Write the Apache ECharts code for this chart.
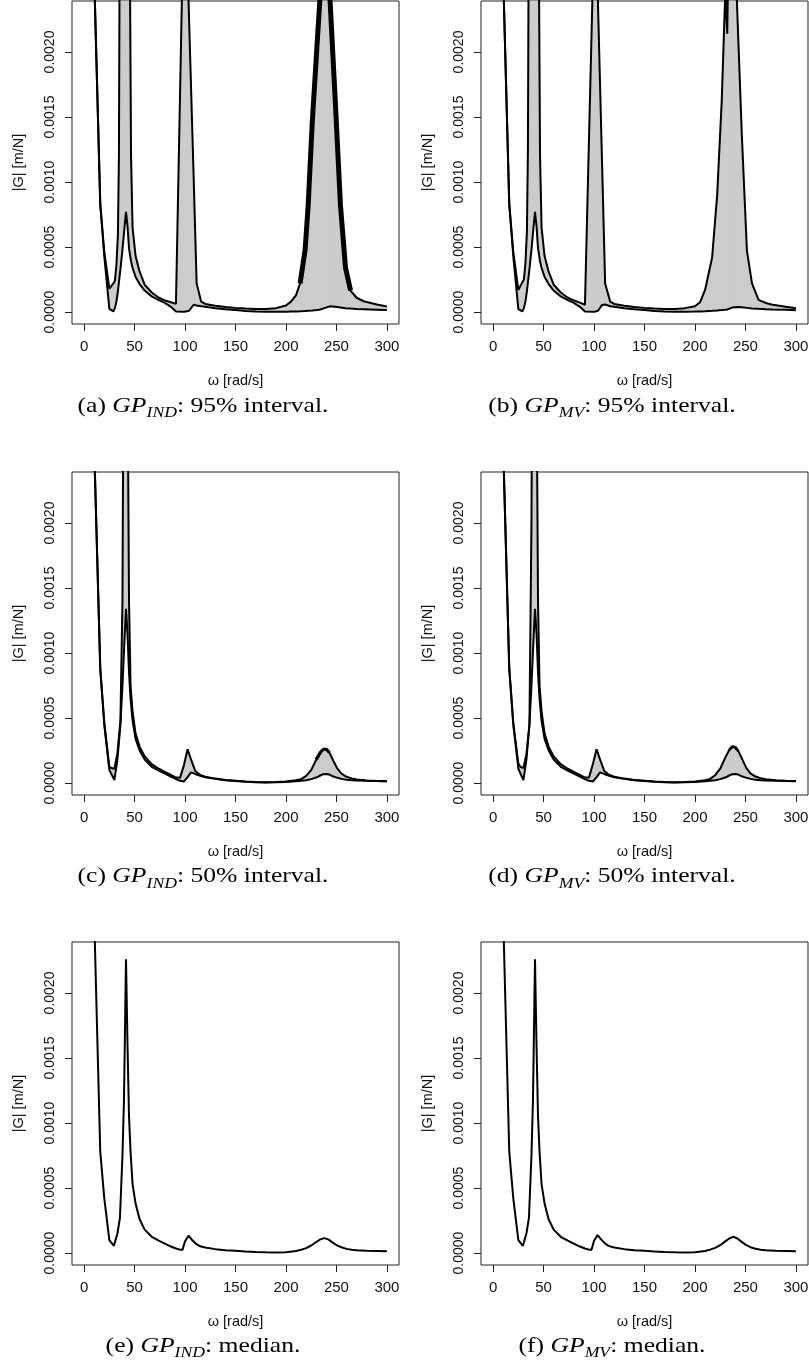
<!DOCTYPE html>
<html><head><meta charset="utf-8">
<script src="https://cdn.jsdelivr.net/npm/echarts@6/dist/echarts.min.js"></script>
<style>html,body{margin:0;padding:0;background:#fff}#c{width:809px;height:1371px}</style>
</head><body><div id="c"></div>
<script>
// ---- tick labels ----
const xTicks = [0, 50, 100, 150, 200, 250, 300];          // ω [rad/s]
const yTicks = [0, 5, 10, 15, 20];                         // |G| in units of 1e-4 m/N

// ---- (a) GP_IND 95% interval (|G| in 1e-4 m/N) ----
const xA = [10,16,20,25,29,30.5,32,33.5,34.5,36,38,40,41.5,43,44.5,45.5,46.5,48,51,55,60,67,74,80,86,91,99.5,104,108.5,111.5,116,120,130,140,150,160,170,180,190,200,205,210,214,219,222,226,231,234,238,244,249,254,259,264,270,277,290,300];
const lowerA = [25.8,8.3,4.3,0.25,0.05, 0.3,0.8,1.6,2.3,3.3, 4.8,6.5,7.7,6.6,4.9, 4.4,3.9,3.4,2.7,2.15, 1.65,1.2,0.92,0.7,0.4, 0.05,0.03,0.1,0.56,0.5, 0.45,0.4,0.3,0.22,0.15, 0.08,0.04,0.03,0.03,0.03, 0.04,0.05,0.06,0.08,0.1, 0.12,0.16,0.2,0.3,0.44, 0.4,0.35,0.3,0.27,0.24, 0.22,0.18,0.15];
const upperA = [25.8,8.3,4.6,1.8,2.2, 2.4,3.6,6.0,12,45, 80,100,100,80,45, 25,12,6.5,4.3,3.1, 2.1,1.5,1.1,0.9,0.75, 0.64,34.5,22.5,10.5,2.2, 0.8,0.62,0.48,0.38,0.32, 0.27,0.24,0.24,0.3,0.5, 0.8,1.3,2.2,4.8,8.2, 14.5,20.8,24.5,32,23.5, 16,8.2,3.4,1.65,1.1, 0.83,0.58,0.42];

// ---- (b) GP_MV 95% interval ----
const xB = [10,16,20,25,29,30.5,32,33.5,34.5,36,38,40,41.5,43,44.5,45.5,46.5,48,51,55,60,67,74,80,86,91,101,104,108,111,116,120,130,140,150,160,170,180,190,200,205,210,217,222,226.5,230,232,233.5,237,241.5,246.5,251.5,256.5,263,270,277,290,300];
const lowerB = [25.8,8.3,4.3,0.22,0.05, 0.3,0.8,1.6,2.3,3.3, 4.8,6.5,7.7,6.6,4.9, 4.4,3.9,3.4,2.7,2.15, 1.65,1.2,0.92,0.7,0.4, 0.05,0.03,0.1,0.55,0.58, 0.45,0.4,0.3,0.22,0.15, 0.08,0.04,0.03,0.03,0.04, 0.05,0.06,0.09,0.12,0.15, 0.18,0.2,0.26,0.34,0.38, 0.36,0.32,0.28,0.25,0.22, 0.2,0.17,0.14];
const upperB = [25.8,8.3,4.6,1.7,2.3, 2.5,3.7,6.2,12.5,45, 80,100,100,80,45, 25,12,6.5,4.3,3.1, 2.1,1.5,1.1,0.9,0.72, 0.56,32.4,23.4,11.3,2.2, 0.8,0.62,0.48,0.38,0.32, 0.27,0.24,0.24,0.3,0.45, 0.75,1.7,4.2,9,16.2, 24.5,21.4,30,38,24, 13.5,4.7,2.2,0.94,0.7, 0.56,0.4,0.3];

// ---- (c) GP_IND / (d) GP_MV 50% interval ----
const xCD = [10,16,20,25,27,30,33,36,38,40,41.5,43,44.5,46,48,51,55,60,67,74,80,86,91,95,99,102.5,106,110,115,120,130,140,150,160,170,180,190,200,210,215,220,225,230,234,237,240,243,247,251,255,260,265,270,280,290,300];
const lowerC = [25.8,8.8,4.5,1.0,0.7, 0.23,1.8,4.5,7.5,11, 13.4,11.5,8.5,6.5,4.8, 3.4,2.5,1.8,1.25,0.95, 0.72,0.5,0.3,0.17,0.12, 0.45,0.82,0.7,0.56,0.45, 0.32,0.22,0.16,0.1,0.07, 0.05,0.06,0.08,0.13,0.17, 0.22,0.3,0.42,0.58,0.68, 0.7,0.65,0.5,0.4,0.32, 0.26,0.22,0.2,0.17,0.15, 0.13];
const upperC = [25.8,8.8,4.6,1.25,1.15, 1.1,2.3,4.8,14,50, 60,32,14,7.5,5.5, 3.8,2.8,2.05,1.45,1.1, 0.85,0.62,0.42,0.4,1.4, 2.6,1.8,0.95,0.62,0.48, 0.34,0.24,0.18,0.12,0.08, 0.06,0.08,0.12,0.22,0.3, 0.55,1.0,1.8,2.35,2.6, 2.6,2.35,1.7,1.1,0.72, 0.48,0.36,0.28,0.2,0.16, 0.14];
const lowerD = [25.8,8.8,4.5,1.1,0.75, 0.23,1.8,4.5,7.5,11, 13.4,11.5,8.5,6.5,4.8, 3.4,2.5,1.8,1.25,0.95, 0.72,0.5,0.3,0.17,0.12, 0.45,0.82,0.7,0.56,0.45, 0.32,0.22,0.16,0.1,0.07, 0.05,0.06,0.08,0.13,0.17, 0.22,0.3,0.42,0.58,0.68, 0.7,0.65,0.5,0.4,0.32, 0.26,0.22,0.2,0.17,0.15, 0.13];
const upperD = [25.8,8.8,4.6,1.5,1.25, 1.15,2.2,4.5,20,55, 60,32,14,7.5,5.5, 3.8,2.8,2.05,1.45,1.1, 0.85,0.62,0.42,0.42,1.5, 2.6,1.8,0.95,0.62,0.48, 0.34,0.24,0.18,0.12,0.08, 0.06,0.08,0.12,0.22,0.32, 0.6,1.1,1.95,2.55,2.8, 2.75,2.45,1.8,1.15,0.75, 0.5,0.37,0.29,0.21,0.17, 0.15];

// ---- (e) GP_IND / (f) GP_MV median ----
const xEF = [10,16,20,25,29.5,33,35.5,38,39.5,41.5,43,44.5,46,48,51,55,60,67,74,80,86,91,95,97.5,100,103.5,107,111,115,120,130,140,150,160,170,180,190,200,210,215,220,225,230,234,238,242,246,250,255,260,265,270,280,290,300];
const medianE = [25.8,7.8,4.2,1.0,0.56, 1.5,2.7,7.5,11.8,22.6, 16.0,10.5,7.8,5.3,3.8, 2.6,1.8,1.25,0.95,0.72, 0.5,0.35,0.26,0.26,0.9, 1.33,1.0,0.7,0.52,0.42, 0.3,0.22,0.17,0.12,0.08, 0.06,0.05,0.06,0.15,0.25, 0.38,0.58,0.85,1.05,1.15, 1.05,0.82,0.62,0.44,0.32, 0.25,0.21,0.17,0.15,0.13];
const medianF = [25.8,7.8,4.2,1.0,0.56, 1.5,2.7,7.5,11.8,22.6, 16.0,10.5,7.8,5.3,3.8, 2.6,1.8,1.25,0.95,0.72, 0.5,0.35,0.26,0.26,0.95, 1.38,1.05,0.72,0.53,0.43, 0.3,0.22,0.17,0.12,0.08, 0.06,0.05,0.06,0.15,0.26, 0.4,0.6,0.9,1.12,1.25, 1.12,0.88,0.65,0.45,0.33, 0.26,0.21,0.17,0.15,0.13];

// ---- captions ----
const captions = [
  ['(a) ', 'IND', ': 95% interval.'],
  ['(b) ', 'MV', ': 95% interval.'],
  ['(c) ', 'IND', ': 50% interval.'],
  ['(d) ', 'MV', ': 50% interval.'],
  ['(e) ', 'IND', ': median.'],
  ['(f) ', 'MV', ': median.']
];

const panels = [
  {x: xA,  lower: lowerA, upper: upperA, thick: [212, 266], thickW: 5},
  {x: xB,  lower: lowerB, upper: upperB},
  {x: xCD, lower: lowerC, upper: upperC, thick: [229, 246], thickW: 3.2},
  {x: xCD, lower: lowerD, upper: upperD, thick: [231, 245], thickW: 2.8},
  {x: xEF, median: medianE},
  {x: xEF, median: medianF}
];

const colLeft = [72, 481];
const rowTop = [1, 472, 942];
const capY = [406, 876.5, 1346];
const capX = [203, 612];
const SANS = 'Liberation Sans';
const LW = 2;

const grids = [], xAxes = [], yAxes = [], series = [], graphics = [];
const zip = (xs, ys) => xs.map((x, i) => [x, ys[i]]);

function bandItem(params, api) {
  const p0 = api.coord([api.value(0), api.value(1)]);
  const p1 = api.coord([api.value(3), api.value(4)]);
  const p2 = api.coord([api.value(3), api.value(5)]);
  const p3 = api.coord([api.value(0), api.value(2)]);
  return {type: 'polygon', shape: {points: [p0, p1, p2, p3]},
    style: {fill: '#cccccc', stroke: '#cccccc', lineWidth: 0.8}};
}

panels.forEach((p, gi) => {
  const col = gi % 2, row = Math.floor(gi / 2);
  grids.push({left: colLeft[col], top: rowTop[row], width: 327, height: 323,
    show: true, borderColor: '#222', borderWidth: 1, backgroundColor: 'transparent',
    containLabel: false, outerBoundsMode: 'none'});
  xAxes.push({gridIndex: gi, type: 'value', min: -12, max: 312, position: 'bottom',
    axisLine: {show: false, onZero: false}, splitLine: {show: false},
    axisTick: {show: true, length: 7, lineStyle: {color: '#222', width: 1}, customValues: xTicks},
    axisLabel: {customValues: xTicks, margin: 15, fontSize: 15, color: '#111', fontFamily: SANS},
    name: 'ω [rad/s]', nameLocation: 'middle', nameGap: 49,
    nameTextStyle: {fontSize: 14.5, color: '#111', fontFamily: SANS}});
  yAxes.push({gridIndex: gi, type: 'value', min: -0.92, max: 23.92, position: 'left',
    axisLine: {show: false, onZero: false}, splitLine: {show: false},
    axisTick: {show: true, length: 7, lineStyle: {color: '#222', width: 1}, customValues: yTicks},
    axisLabel: {customValues: yTicks, rotate: 90, margin: 15, fontSize: 14, color: '#111', fontFamily: SANS,
      formatter: v => (v * 1e-4).toFixed(4)},
    name: '|G| [m/N]', nameLocation: 'middle', nameGap: 46, nameRotate: 90,
    nameTextStyle: {fontSize: 14.5, color: '#111', fontFamily: SANS}});

  const base = {type: 'line', xAxisIndex: gi, yAxisIndex: gi, symbol: 'none', silent: true, animation: false, clip: true};
  if (p.median) {
    series.push(Object.assign({}, base, {data: zip(p.x, p.median), lineStyle: {color: '#000', width: LW}, z: 3}));
  } else {
    // band rows: [x_i, lower_i, upper_i, x_i+1, lower_i+1, upper_i+1]
    const rows = [];
    for (let i = 0; i < p.x.length - 1; i++) {
      rows.push([p.x[i], p.lower[i], p.upper[i], p.x[i + 1], p.lower[i + 1], p.upper[i + 1]]);
    }
    series.push({type: 'custom', xAxisIndex: gi, yAxisIndex: gi, clip: true, silent: true, animation: false,
      z: 1, data: rows, encode: {x: [0, 3], y: [1, 2, 4, 5]}, renderItem: bandItem});
    series.push(Object.assign({}, base, {data: zip(p.x, p.lower), lineStyle: {color: '#000', width: LW}, z: 3}));
    series.push(Object.assign({}, base, {data: zip(p.x, p.upper), lineStyle: {color: '#000', width: LW}, z: 3}));
    if (p.thick) {
      const seg = zip(p.x, p.upper).filter(d => d[0] >= p.thick[0] && d[0] <= p.thick[1]);
      series.push(Object.assign({}, base, {data: seg, lineStyle: {color: '#000', width: p.thickW, join: 'round'}, z: 4}));
    }
  }
  const c = captions[gi];
  graphics.push({type: 'text', x: capX[col], y: capY[row], scaleX: 1.22, silent: true,
    style: {
      text: '{n|' + c[0] + '}{i|GP}{s|' + c[1] + '}{n|' + c[2] + '}',
      textAlign: 'center', textVerticalAlign: 'middle', fill: '#000',
      fontFamily: 'Liberation Serif', fontSize: 21,
      rich: {
        n: {fontFamily: 'Liberation Serif', fontSize: 21, lineHeight: 30, verticalAlign: 'middle', fill: '#000'},
        i: {fontFamily: 'Liberation Serif', fontSize: 21, fontStyle: 'italic', lineHeight: 30, verticalAlign: 'middle', fill: '#000'},
        s: {fontFamily: 'Liberation Serif', fontSize: 14.5, fontStyle: 'italic', lineHeight: 18, verticalAlign: 'bottom', fill: '#000'}
      }
    }});
});

const chart = echarts.init(document.getElementById('c'), null, {renderer: 'canvas'});
chart.setOption({
  animation: false,
  backgroundColor: '#fff',
  grid: grids, xAxis: xAxes, yAxis: yAxes, series: series,
  graphic: {elements: graphics}
});
</script>
</body></html>
